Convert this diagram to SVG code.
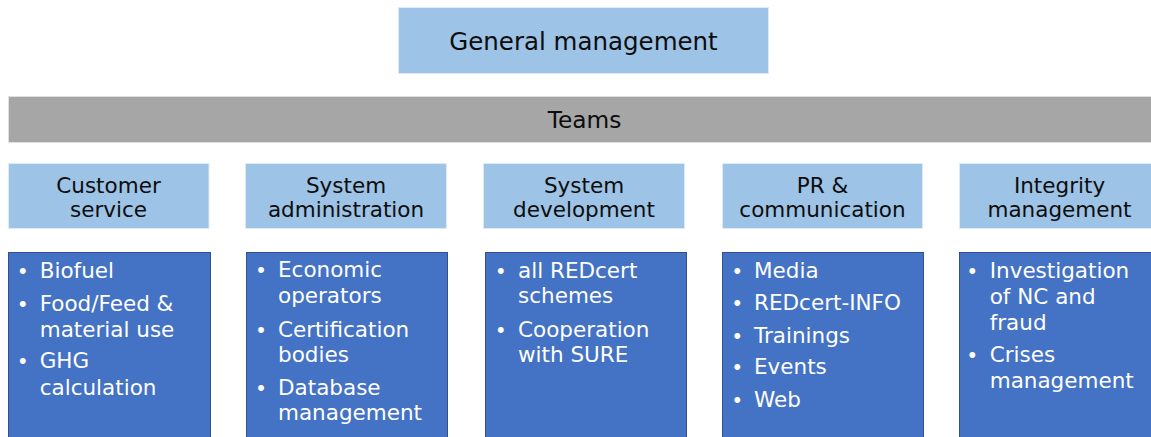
<svg xmlns="http://www.w3.org/2000/svg" width="1151" height="437" viewBox="0 0 1151 437">
<style>
.gm{fill:#9DC3E6;stroke:#DDEBF7;stroke-width:1}
.bar{fill:#A6A6A6;stroke:#E0E0E0;stroke-width:1}
.hd{fill:#9DC3E6;stroke:#DDEBF7;stroke-width:1}
.bd{fill:#4472C4;stroke:#2F528F;stroke-width:1}
.t{font-family:"DejaVu Sans","Verdana",sans-serif;fill:#0D0D0D;text-anchor:middle}
.b{font-family:"DejaVu Sans","Verdana",sans-serif;fill:#FFFFFF;font-size:21.5px}
.dot{font-family:"Liberation Sans",Arial,sans-serif;fill:#FFFFFF;font-size:21.5px;text-anchor:middle}
</style>
<rect width="1151" height="437" fill="#FFFFFF"/>
<g id="connectors"></g>
<g id="general-management">
<rect class="gm" x="398.5" y="7.5" width="370" height="66"/>
<text class="t" x="583.5" y="50" font-size="24.5">General management</text>
</g>
<g id="teams">
<rect class="bar" x="8.5" y="96.5" width="1150" height="46"/>
<text class="t" x="584.5" y="128" font-size="23.3">Teams</text>
</g>
<g id="customer-service">
<rect class="hd" x="8.5" y="163.5" width="200.5" height="65"/>
<text class="t" x="108.5" font-size="21.5"><tspan x="108.5" y="192.7">Customer</tspan><tspan x="108.5" y="216.7">service</tspan></text>
<rect class="bd" x="8.5" y="252.5" width="202" height="190"/>
<text class="dot"><tspan x="22.7" y="278.3">•</tspan><tspan x="22.7" y="310.7">•</tspan><tspan x="22.7" y="368.3">•</tspan></text>
<text class="b"><tspan x="39.7" y="278.3">Biofuel</tspan><tspan x="39.7" y="310.7">Food/Feed &amp;</tspan><tspan x="39.7" y="336.7">material use</tspan><tspan x="39.7" y="368.3">GHG</tspan><tspan x="39.7" y="395">calculation</tspan></text>
</g>
<g id="system-administration">
<rect class="hd" x="245.5" y="163.5" width="201" height="65"/>
<text class="t" x="346" font-size="21.5"><tspan x="346" y="192.7">System</tspan><tspan x="346" y="216.7">administration</tspan></text>
<rect class="bd" x="246.5" y="252.5" width="201" height="190"/>
<text class="dot"><tspan x="261" y="277.3">•</tspan><tspan x="261" y="336.7">•</tspan><tspan x="261" y="395">•</tspan></text>
<text class="b"><tspan x="278" y="277.3">Economic</tspan><tspan x="278" y="303">operators</tspan><tspan x="278" y="336.7">Certification</tspan><tspan x="278" y="361.7">bodies</tspan><tspan x="278" y="395">Database</tspan><tspan x="278" y="420">management</tspan></text>
</g>
<g id="system-development">
<rect class="hd" x="483.5" y="163.5" width="201" height="65"/>
<text class="t" x="584" font-size="21.5"><tspan x="584" y="192.7">System</tspan><tspan x="584" y="216.7">development</tspan></text>
<rect class="bd" x="485.5" y="252.5" width="201" height="190"/>
<text class="dot"><tspan x="500.7" y="278.3">•</tspan><tspan x="500.7" y="336.7">•</tspan></text>
<text class="b"><tspan x="518" y="278.3">all REDcert</tspan><tspan x="518" y="303.3">schemes</tspan><tspan x="518" y="336.7">Cooperation</tspan><tspan x="518" y="362.3">with SURE</tspan></text>
</g>
<g id="pr-communication">
<rect class="hd" x="722.5" y="163.5" width="200" height="65"/>
<text class="t" x="822.5" font-size="21.5"><tspan x="822.5" y="192.7">PR &amp;</tspan><tspan x="822.5" y="216.7">communication</tspan></text>
<rect class="bd" x="722.5" y="252.5" width="201" height="190"/>
<text class="dot"><tspan x="737.3" y="278.3">•</tspan><tspan x="737.3" y="310">•</tspan><tspan x="737.3" y="342.7">•</tspan><tspan x="737.3" y="374">•</tspan><tspan x="737.3" y="406.7">•</tspan></text>
<text class="b"><tspan x="754" y="278.3">Media</tspan><tspan x="754" y="310">REDcert-INFO</tspan><tspan x="754" y="342.7">Trainings</tspan><tspan x="754" y="374">Events</tspan><tspan x="754" y="406.7">Web</tspan></text>
</g>
<g id="integrity-management">
<rect class="hd" x="959.5" y="163.5" width="201" height="65"/>
<text class="t" x="1059.5" font-size="21.5"><tspan x="1059.5" y="192.7">Integrity</tspan><tspan x="1059.5" y="216.7">management</tspan></text>
<rect class="bd" x="959.5" y="252.5" width="201" height="190"/>
<text class="dot"><tspan x="972.3" y="278.3">•</tspan><tspan x="972.3" y="362.3">•</tspan></text>
<text class="b"><tspan x="989.7" y="278.3">Investigation</tspan><tspan x="989.7" y="304">of NC and</tspan><tspan x="989.7" y="330">fraud</tspan><tspan x="989.7" y="362.3">Crises</tspan><tspan x="989.7" y="388.3">management</tspan></text>
</g>
</svg>
